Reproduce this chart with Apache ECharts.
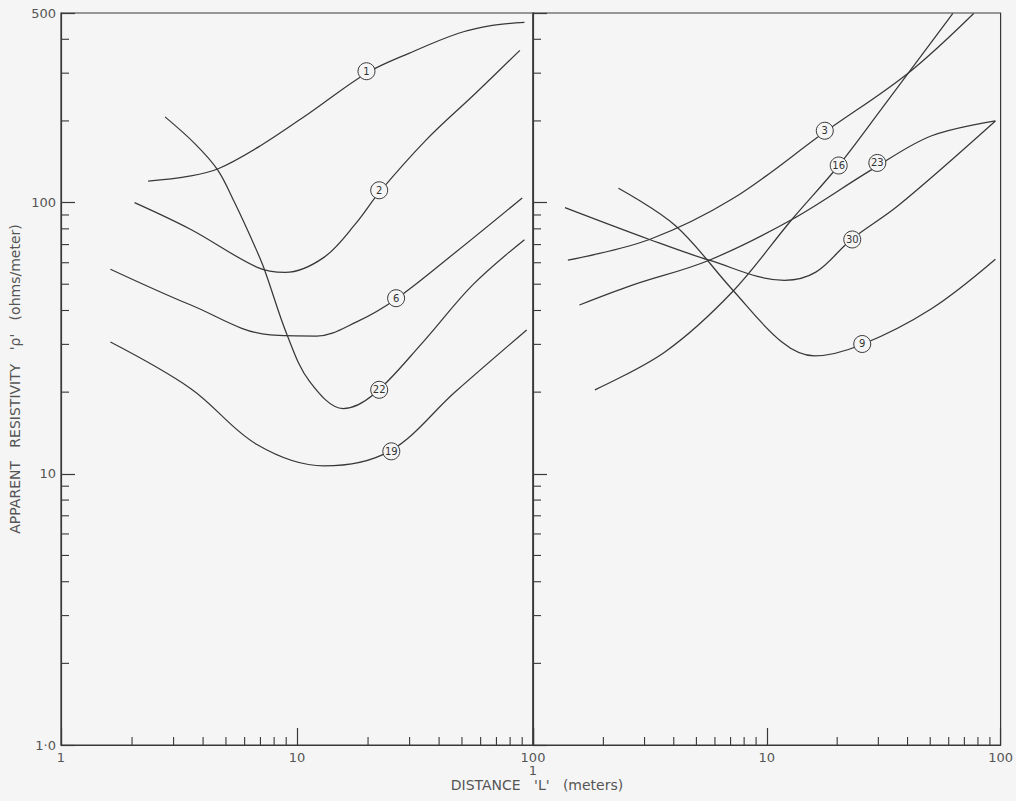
<!DOCTYPE html>
<html>
<head>
<meta charset="utf-8">
<title>Apparent resistivity vs distance</title>
<script src="https://cdn.jsdelivr.net/npm/echarts@6/dist/echarts.min.js"></script>
<style>
  html, body { margin: 0; padding: 0; background: #f5f5f5; }
  #chart { width: 1016px; height: 801px; }
</style>
</head>
<body>
<div id="chart"></div>
<script>
// points are [distance L (m), apparent resistivity (ohms/meter)]
// left panel
const curve1 = [[2.34, 120], [3.45, 125], [4.61, 133], [7.0, 162], [11.3, 214], [19.7, 300], [29.8, 355], [48.4, 421], [67.3, 450], [92, 462]];
const curve2 = [[2.05, 100], [3.55, 79.6], [6.79, 57.7], [8.91, 55.3], [13.0, 62.8], [17.9, 84.5], [22.3, 109], [35.2, 170], [57.1, 253], [88, 364]];
const curve6 = [[1.62, 56.8], [3.55, 41.9], [7.7, 32.5], [12.1, 32.2], [17.9, 36.3], [26.3, 44.1], [47.0, 65.6], [90, 104]];
const curve22 = [[2.76, 207], [3.69, 165], [4.61, 132], [5.44, 100], [6.6, 69.5], [7.27, 56.8], [9.08, 32.5], [11.3, 21.9], [15.7, 17.4], [21.1, 19.6], [34.2, 30.6], [55.4, 49.6], [92, 73]];
const curve19 = [[1.62, 30.6], [3.55, 20.6], [6.79, 12.8], [13.0, 10.7], [24.6, 12.1], [47.0, 20.1], [94, 33.9]];
// right panel
const curve3 = [[1.41, 61.3], [3.15, 73.1], [7.1, 103], [17.7, 182], [40.2, 300], [76.7, 498]];
const curve16 = [[1.84, 20.4], [3.68, 28.2], [7.1, 46.7], [12.8, 86.6], [20.3, 137], [30.9, 221], [62.5, 498]];
const curve23 = [[1.58, 41.9], [2.66, 49.6], [5.67, 61.3], [12.8, 86.6], [28.0, 132], [50.4, 176], [95, 200]];
const curve30 = [[1.37, 95.8], [3.15, 73.1], [5.67, 61.3], [11.9, 51.7], [16.2, 55.4], [23.0, 73.1], [36.5, 97.5], [95, 200]];
const curve9 = [[2.32, 113], [4.06, 82.3], [7.1, 47.9], [11.6, 30.6], [16.0, 27.2], [25.4, 29.9], [50.4, 40.5], [95, 61.8]];

// circled curve numbers: [L, rho, number]
const leftTags = [[19.7, 305, '1'], [22.3, 111, '2'], [26.3, 44.4, '6'], [22.3, 20.4, '22'], [25.1, 12.1, '19']];
const rightTags = [[17.7, 184, '3'], [20.3, 137, '16'], [29.7, 140, '23'], [23.2, 73.1, '30'], [25.6, 30.1, '9']];

// tick labels and minor tick values
const xTickLabels = { 1: '1', 10: '10', 100: '100' };
const yTickLabels = { 1: '1·0', 10: '10', 100: '100', 500: '500' };
const xMinorTicks = [2, 3, 4, 5, 6, 7, 8, 9, 20, 30, 40, 50, 60, 70, 80, 90];
const yMinorTicks = [2, 3, 4, 5, 6, 7, 8, 9, 20, 30, 40, 50, 60, 70, 80, 90, 200, 300, 400];

const INK = '#383838';
const TEXT = '#555';
const FONT = 'DejaVu Sans';

const leftCurves = [curve1, curve2, curve6, curve22, curve19];
const rightCurves = [curve3, curve16, curve23, curve30, curve9];

function lineSeries(data, idx) {
  return {
    type: 'line',
    xAxisIndex: idx,
    yAxisIndex: idx,
    data: data,
    smooth: 0.35,
    showSymbol: false,
    silent: true,
    lineStyle: { color: INK, width: 1.25 }
  };
}

function tagSeries(data, idx) {
  return {
    type: 'scatter',
    xAxisIndex: idx,
    yAxisIndex: idx,
    data: data,
    symbol: 'circle',
    symbolSize: 17,
    z: 5,
    itemStyle: { color: '#f5f5f5', borderColor: INK, borderWidth: 1, opacity: 1 },
    label: {
      show: true,
      position: 'inside',
      formatter: p => p.data[2],
      fontSize: 10,
      fontFamily: FONT,
      color: '#333'
    }
  };
}

// small inward ticks at 2..9 of each decade
function minorTickSeries(idx) {
  const xs = xMinorTicks.map(v => [v, 1]);
  const ys = yMinorTicks.map(v => [1, v]);
  return {
    type: 'custom',
    xAxisIndex: idx,
    yAxisIndex: idx,
    clip: false,
    silent: true,
    data: xs.concat(ys),
    renderItem: function (params, api) {
      const p = api.coord([api.value(0), api.value(1)]);
      const horiz = params.dataIndex >= xs.length;
      return {
        type: 'line',
        shape: horiz
          ? { x1: p[0], y1: p[1], x2: p[0] + 8, y2: p[1] }
          : { x1: p[0], y1: p[1], x2: p[0], y2: p[1] - 8 },
        style: { stroke: INK, lineWidth: 1.1 }
      };
    }
  };
}

function xAxis(idx) {
  return {
    gridIndex: idx,
    type: 'log',
    logBase: 10,
    min: 1,
    max: 100,
    splitLine: { show: false },
    axisLine: { lineStyle: { color: INK, width: 1.2 } },
    axisTick: { inside: true, length: 17, lineStyle: { color: INK, width: 1.2 } },
    axisLabel: {
      margin: 6,
      fontSize: 13,
      fontFamily: FONT,
      color: TEXT,
      // right panel: its "1" sits under the left panel's "100"
      formatter: v => (idx === 1 && v === 1 ? '\n' : '') + (xTickLabels[v] || '')
    }
  };
}

function yAxis(idx) {
  const ax = {
    gridIndex: idx,
    type: 'log',
    logBase: 10,
    min: 1,
    max: 500,
    splitLine: { show: false },
    axisLine: { lineStyle: { color: INK, width: 1.2 } },
    axisTick: { inside: true, length: 14, lineStyle: { color: INK, width: 1.2 } },
    axisLabel: {
      show: idx === 0,
      margin: 5,
      fontSize: 13,
      fontFamily: FONT,
      color: TEXT,
      formatter: v => yTickLabels[Math.round(v)] || ''
    }
  };
  if (idx === 0) {
    ax.name = "APPARENT   RESISTIVITY   'ρ'   (ohms/meter)";
    ax.nameLocation = 'middle';
    ax.nameGap = 39;
    ax.nameTextStyle = { fontSize: 14, fontFamily: FONT, color: TEXT };
  }
  return ax;
}

const chart = echarts.init(document.getElementById('chart'), null, { renderer: 'svg' });
chart.setOption({
  animation: false,
  backgroundColor: '#f5f5f5',
  grid: [
    { left: 61, top: 13, width: 472, height: 732, show: true, borderColor: INK, borderWidth: 1.2 },
    { left: 533, top: 13, width: 468, height: 732, show: true, borderColor: INK, borderWidth: 1.2 }
  ],
  xAxis: [xAxis(0), xAxis(1)],
  yAxis: [yAxis(0), yAxis(1)],
  graphic: [
    {
      type: 'text',
      x: 537,
      y: 785,
      style: {
        text: "DISTANCE   'L'   (meters)",
        font: '14px "DejaVu Sans"',
        fill: TEXT,
        textAlign: 'center',
        textVerticalAlign: 'middle'
      }
    }
  ],
  series: [
    ...leftCurves.map(c => lineSeries(c, 0)),
    ...rightCurves.map(c => lineSeries(c, 1)),
    tagSeries(leftTags, 0),
    tagSeries(rightTags, 1),
    minorTickSeries(0),
    minorTickSeries(1)
  ]
});
</script>
</body>
</html>
